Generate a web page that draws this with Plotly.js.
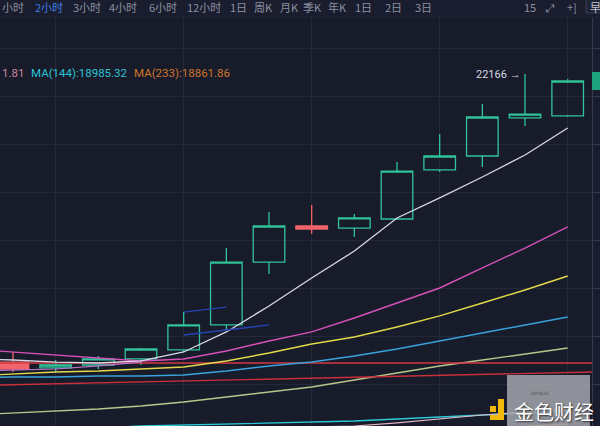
<!DOCTYPE html>
<html>
<head>
<meta charset="utf-8">
<script src="https://cdn.plot.ly/plotly-3.0.1.min.js"></script>
<style>
html,body{margin:0;padding:0;background:#1a1d2d;}
#chart{width:600px;height:426px;}
</style>
</head>
<body>
<div id="chart"></div>
<script>
// ---- data ----
const candleIdx = [0,1,2,3,4,5,6,7,8,9,10,11,12,13];
const openP  = [19447,19391,19419,19476,19561,19797,20391,20731,20712,20797,21260,21392,21751,21770];
const highP  = [19542,19466,19504,19579,19919,20523,20863,20929,20844,21335,21600,21883,22166,22119];
const lowP   = [19353,19353,19381,19419,19542,19749,20278,20656,20627,20788,21241,21288,21675,21760];
const closeP = [19381,19419,19476,19570,19797,20391,20731,20703,20807,21250,21392,21760,21788,22100];

// moving averages, starting one candle before the first visible one
const maIdx     = [-1,0,1,2,3,4,5,6,7,8,9,10,11,12,13];
const maWhite   = [19476,19466,19447,19438,19457,19542,19731,19976,20240,20495,20807,20996,21194,21401,21656];
const maPink    = [19570,19542,19513,19485,19457,19476,19551,19646,19731,19863,20004,20146,20335,20523,20722];
const maLavender= [19362,19372,19381,19410,19447];
const maYellow  = [19315,19334,19353,19362,19381,19400,19457,19532,19617,19683,19778,19882,20004,20127,20259];
const maBlue    = [19296,19306,19306,19315,19315,19325,19362,19410,19447,19504,19570,19646,19721,19797,19872];
const maOlive   = [18947,18966,18985,19004,19032,19070,19117,19164,19211,19277,19344,19410,19466,19523,19579];
const maRose    = [18692,18711,18730,18749,18768,18787,18805,18824,18834,18843,18872,18909,18947,18975,19004];
const ma144     = [18796,18805,18815,18824,18843,18853,18862,18872,18881,18890,18909,18928,18947,18966,18985];
const ma233     = [18645,18664,18683,18702,18720,18739,18749,18758,18768,18777,18787,18805,18820,18838,18862];

// user-drawn trend lines (x in candle index, y in price)
const redFlatX = [-0.4, 13.7],   redFlatY = [19438, 19438];
const redSlopeX = [-0.305, 13.57], redSlopeY = [19230, 19353];
const blueAX = [4, 5], blueAY = [19919, 19966];
const blueBX = [4, 6], blueBY = [19702, 19797];

const highLabel = "22166 →";
const legendTexts = ["1.81", "MA(144):18985.32", "MA(233):18861.86"];
const periodTabs = ["小时","2小时","3小时","4小时","6小时","12小时","1日","周K","月K","季K","年K","1日","2日","3日"];

// ---- layout helpers (pixel -> paper) ----
const W = 600, H = 426, ML = 0, MR = 8, MT = 17, MB = 0;
const PW = W - ML - MR, PH = H - MT - MB;
const xp = px => (px - ML) / PW;
const yp = py => (H - MB - py) / PH;

// price scale: 48px grid
const k = 9.44;
const priceAt = py => 22166 + (74 - py) * k;

const green = '#31c49a', red = '#f0646a';

function line(x, y, color, width) {
  return {type:'scatter', mode:'lines', x:x, y:y, line:{color:color, width:width||1.4},
          hoverinfo:'skip', showlegend:false};
}

const traces = [
  {type:'candlestick', x:candleIdx, open:openP, high:highP, low:lowP, close:closeP,
   increasing:{line:{color:green, width:1.3}, fillcolor:'rgba(0,0,0,0)'},
   decreasing:{line:{color:red, width:1.3}, fillcolor:red},
   whiskerwidth:0, showlegend:false, hoverinfo:'skip'},
  line(maIdx, ma233, '#d8782c'),
  line(maIdx, ma144, '#2ccad8'),
  line(maIdx, maRose, '#e2b6c4', 1.2),
  line(maIdx, maOlive, '#b5c88a'),
  line(redSlopeX, redSlopeY, '#c8303c', 1.4),
  line(redFlatX, redFlatY, '#d23a45', 1.4),
  line(maIdx, maBlue, '#3aa2dc'),
  line(maIdx, maYellow, '#e3d94a'),
  line(maIdx.slice(0,5), maLavender, '#b873c8', 1.2),
  line(maIdx, maPink, '#d752b8'),
  line(maIdx, maWhite, '#d8d8e6', 1.3),
  line(blueAX, blueAY, '#2645b5', 1.3),
  line(blueBX, blueBY, '#2645b5', 1.3)
];

const gridC = '#242838', axisC = '#363a4c';

const shapes = [
  // top bar separator
  {type:'line', xref:'paper', yref:'paper', x0:xp(0), x1:xp(600), y0:yp(17), y1:yp(17),
   line:{color:'#22263a', width:1}},
  // top-right box
  {type:'rect', xref:'paper', yref:'paper', x0:xp(586), x1:xp(603), y0:yp(13), y1:yp(-3),
   line:{color:'#3c4158', width:1}, fillcolor:'#202437'},
  // last price label
  {type:'rect', xref:'paper', yref:'y', x0:xp(592), x1:xp(600),
   y0:closeP[13] - 9*k, y1:closeP[13] + 9*k, line:{width:0}, fillcolor:'#1fa37e', layer:'above'},
  // watermark box
  {type:'rect', xref:'paper', yref:'paper', x0:xp(507), x1:xp(590), y0:yp(430), y1:yp(375),
   line:{width:0}, fillcolor:'rgba(160,162,170,0.88)', layer:'above'},
  // logo icon
  {type:'rect', xref:'paper', yref:'paper', x0:xp(490), x1:xp(496), y0:yp(412), y1:yp(406),
   line:{width:0}, fillcolor:'#f0b90b', layer:'above'},
  {type:'rect', xref:'paper', yref:'paper', x0:xp(498), x1:xp(504), y0:yp(420), y1:yp(399),
   line:{width:0}, fillcolor:'#f0b90b', layer:'above'},
  {type:'rect', xref:'paper', yref:'paper', x0:xp(490), x1:xp(504), y0:yp(420), y1:yp(415),
   line:{width:0}, fillcolor:'#f0b90b', layer:'above'}
];

const annotations = [];
// period tabs
const tabX = [0,33,71,107,147,185,228,252,278,301,326,353,383,413];
periodTabs.forEach((t,i) => annotations.push({
  text:t, xref:'paper', yref:'paper', x:xp(tabX[i]), y:yp(6.5), xanchor:'left', yanchor:'middle',
  showarrow:false, font:{family:'Noto Sans CJK SC', size:11, color: i===1 ? '#3f7de6' : '#8a90a2'}
}));
// top right
[["15",522,'#8a90a2'],["⤢",544,'#8a90a2'],["+]",565,'#8a90a2'],["早",588,'#c0c4d0']].forEach(a=>annotations.push({
  text:a[0], xref:'paper', yref:'paper', x:xp(a[1]), y:yp(6.5), xanchor:'left', yanchor:'middle',
  showarrow:false, font:{family:'Noto Sans CJK SC', size:11, color:a[2]}
}));
// MA legend
const legX = [0, 29, 132], legC = ['#c8869e', '#2bc4d8', '#d2762a'];
legendTexts.forEach((t,i)=>annotations.push({
  text:t, xref:'paper', yref:'paper', x:xp(legX[i]), y:yp(73), xanchor:'left', yanchor:'middle',
  showarrow:false, font:{family:'Roboto', size:11.5, color:legC[i]}
}));
// high marker
annotations.push({text:highLabel, xref:'x', yref:'y', x:candleIdx[12], y:highP[12],
  xanchor:'right', yanchor:'middle', xshift:-2, showarrow:false,
  font:{family:'Roboto', size:11, color:'#d6d9e4'}});
// watermark texts
annotations.push({text:'default', xref:'paper', yref:'paper', x:xp(540), y:yp(393),
  xanchor:'center', yanchor:'middle', showarrow:false, font:{family:'DejaVu Sans', size:5, color:'#555'}});
annotations.push({text:'金色财经', xref:'paper', yref:'paper', x:xp(554), y:yp(411),
  xanchor:'center', yanchor:'middle', showarrow:false,
  font:{family:'Noto Sans CJK SC', size:20, color:'#ffffff', shadow:'1px 1px 2px rgba(0,0,0,0.7)'}});

const layout = {
  width:W, height:H,
  margin:{l:ML, r:MR, t:MT, b:MB, pad:0},
  paper_bgcolor:'#1a1d2d', plot_bgcolor:'#171b2a',
  showlegend:false, boxgap:0.26, boxgroupgap:0,
  xaxis:{range:[-0.305, 13.57], tick0:1, dtick:3, showgrid:true, gridcolor:gridC, gridwidth:1,
         showticklabels:false, ticks:'', zeroline:false, showline:false,
         rangeslider:{visible:false}, fixedrange:true},
  yaxis:{side:'right', range:[priceAt(426), priceAt(17)], tick0:priceAt(96), dtick:48*k,
         showgrid:true, gridcolor:gridC, gridwidth:1, showticklabels:false,
         ticks:'outside', ticklen:7, tickcolor:axisC, showline:true, linecolor:axisC,
         zeroline:false, fixedrange:true},
  shapes:shapes, annotations:annotations
};

Plotly.newPlot('chart', traces, layout, {displayModeBar:false, staticPlot:true});
</script>
</body>
</html>
